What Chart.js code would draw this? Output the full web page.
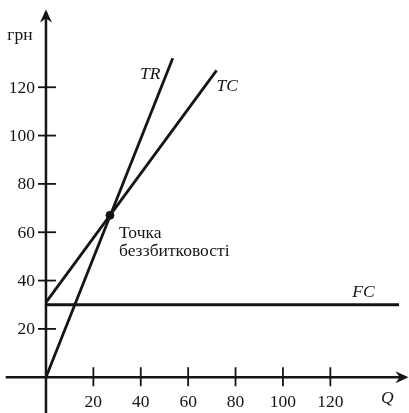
<!DOCTYPE html>
<html>
<head>
<meta charset="utf-8">
<script src="https://cdn.jsdelivr.net/npm/chart.js@4/dist/chart.umd.min.js"></script>
<style>
  html, body { margin: 0; padding: 0; background: #fff; }
  #wrap { width: 409px; height: 413px; }
</style>
</head>
<body>
<div id="wrap"><canvas id="c" width="409" height="413"></canvas></div>
<script>
// ── Data ──────────────────────────────────────────────────────────────────────
const qTicks   = [20, 40, 60, 80, 100, 120];
const uahTicks = [20, 40, 60, 80, 100, 120];

const trQ = [0, 53.5];
const trV = [0, 132];
const tcQ = [0, 72];
const tcV = [31, 127];
const fcQ = [0, 149];
const fcV = [30, 30];
const beQ = [27];
const beV = [67];

const yTitle = 'грн';
const xTitle = 'Q';
const beLabel = ['Точка', 'беззбитковості'];

// ── Helpers ───────────────────────────────────────────────────────────────────
const pts = (xs, ys) => xs.map((x, i) => ({ x, y: ys[i] }));
const INK = '#151515';
const SERIF = '"Liberation Serif", "DejaVu Serif", serif';

const lineSet = (xs, ys) => ({
  data: pts(xs, ys), showLine: true, borderColor: INK, borderWidth: 2.8,
  pointRadius: 0, fill: false, tension: 0,
});

// ── Axes + labels plugin ──────────────────────────────────────────────────────
const econAxes = {
  id: 'econAxes',
  beforeDatasetsDraw(chart) {
    const { ctx, scales: { x, y } } = chart;
    const x0 = x.getPixelForValue(0), y0 = y.getPixelForValue(0);
    ctx.save();
    ctx.strokeStyle = INK; ctx.fillStyle = INK; ctx.lineWidth = 2.5;

    // y axis
    ctx.beginPath();
    ctx.moveTo(x0, y.getPixelForValue(y.min));
    ctx.lineTo(x0, y.getPixelForValue(151));
    ctx.stroke();
    // x axis
    ctx.beginPath();
    ctx.moveTo(x.getPixelForValue(-17), y0);
    ctx.lineTo(x.getPixelForValue(150), y0);
    ctx.stroke();

    // arrowheads
    const yt = y.getPixelForValue(152.2);
    ctx.beginPath();
    ctx.moveTo(x0, yt);
    ctx.lineTo(x0 - 6, yt + 13);
    ctx.lineTo(x0, yt + 9);
    ctx.lineTo(x0 + 6, yt + 13);
    ctx.closePath(); ctx.fill();
    const xt = x.getPixelForValue(153);
    ctx.beginPath();
    ctx.moveTo(xt, y0);
    ctx.lineTo(xt - 13, y0 - 6);
    ctx.lineTo(xt - 9, y0);
    ctx.lineTo(xt - 13, y0 + 6);
    ctx.closePath(); ctx.fill();

    // ticks
    ctx.lineWidth = 1.8;
    ctx.font = '17.5px ' + SERIF;
    ctx.textAlign = 'right'; ctx.textBaseline = 'middle';
    uahTicks.forEach(v => {
      const py = y.getPixelForValue(v);
      ctx.beginPath(); ctx.moveTo(x0 - 8, py); ctx.lineTo(x0 + 10, py); ctx.stroke();
      ctx.fillText(String(v), x0 - 11, py + 1);
    });
    ctx.textAlign = 'center'; ctx.textBaseline = 'middle';
    qTicks.forEach(v => {
      const px = x.getPixelForValue(v);
      ctx.beginPath(); ctx.moveTo(px, y0 - 10); ctx.lineTo(px, y0 + 9); ctx.stroke();
      ctx.fillText(String(v), px, y0 + 25);
    });

    // axis titles
    ctx.fillText(yTitle, x0 - 26, y.getPixelForValue(141.5));
    ctx.font = 'italic 17.5px ' + SERIF;
    ctx.fillText(xTitle, x.getPixelForValue(144), y0 + 21);

    // curve names
    ctx.fillText('TR', x.getPixelForValue(44), y.getPixelForValue(125.5));
    ctx.fillText('TC', x.getPixelForValue(76.5), y.getPixelForValue(120.5));
    ctx.fillText('FC', x.getPixelForValue(134), y.getPixelForValue(35));

    // break-even note
    ctx.font = '17.5px ' + SERIF;
    ctx.textAlign = 'left';
    ctx.fillText(beLabel[0], x.getPixelForValue(30.8), y.getPixelForValue(59.7));
    ctx.fillText(beLabel[1], x.getPixelForValue(30.8), y.getPixelForValue(52.2));
    ctx.restore();
  },
};

// ── Chart ─────────────────────────────────────────────────────────────────────
new Chart(document.getElementById('c'), {
  type: 'scatter',
  data: {
    datasets: [
      lineSet(trQ, trV),
      lineSet(tcQ, tcV),
      lineSet(fcQ, fcV),
      { data: pts(beQ, beV), pointRadius: 4, pointBackgroundColor: INK,
        pointBorderColor: INK, showLine: false },
    ],
  },
  options: {
    responsive: false,
    animation: false,
    layout: { padding: 0, autoPadding: false },
    plugins: { legend: { display: false }, tooltip: { enabled: false } },
    scales: {
      x: { type: 'linear', display: false, min: -19.4, max: 153.2 },
      y: { type: 'linear', display: false, min: -14.8, max: 156.1 },
    },
  },
  plugins: [econAxes],
});
</script>
</body>
</html>
